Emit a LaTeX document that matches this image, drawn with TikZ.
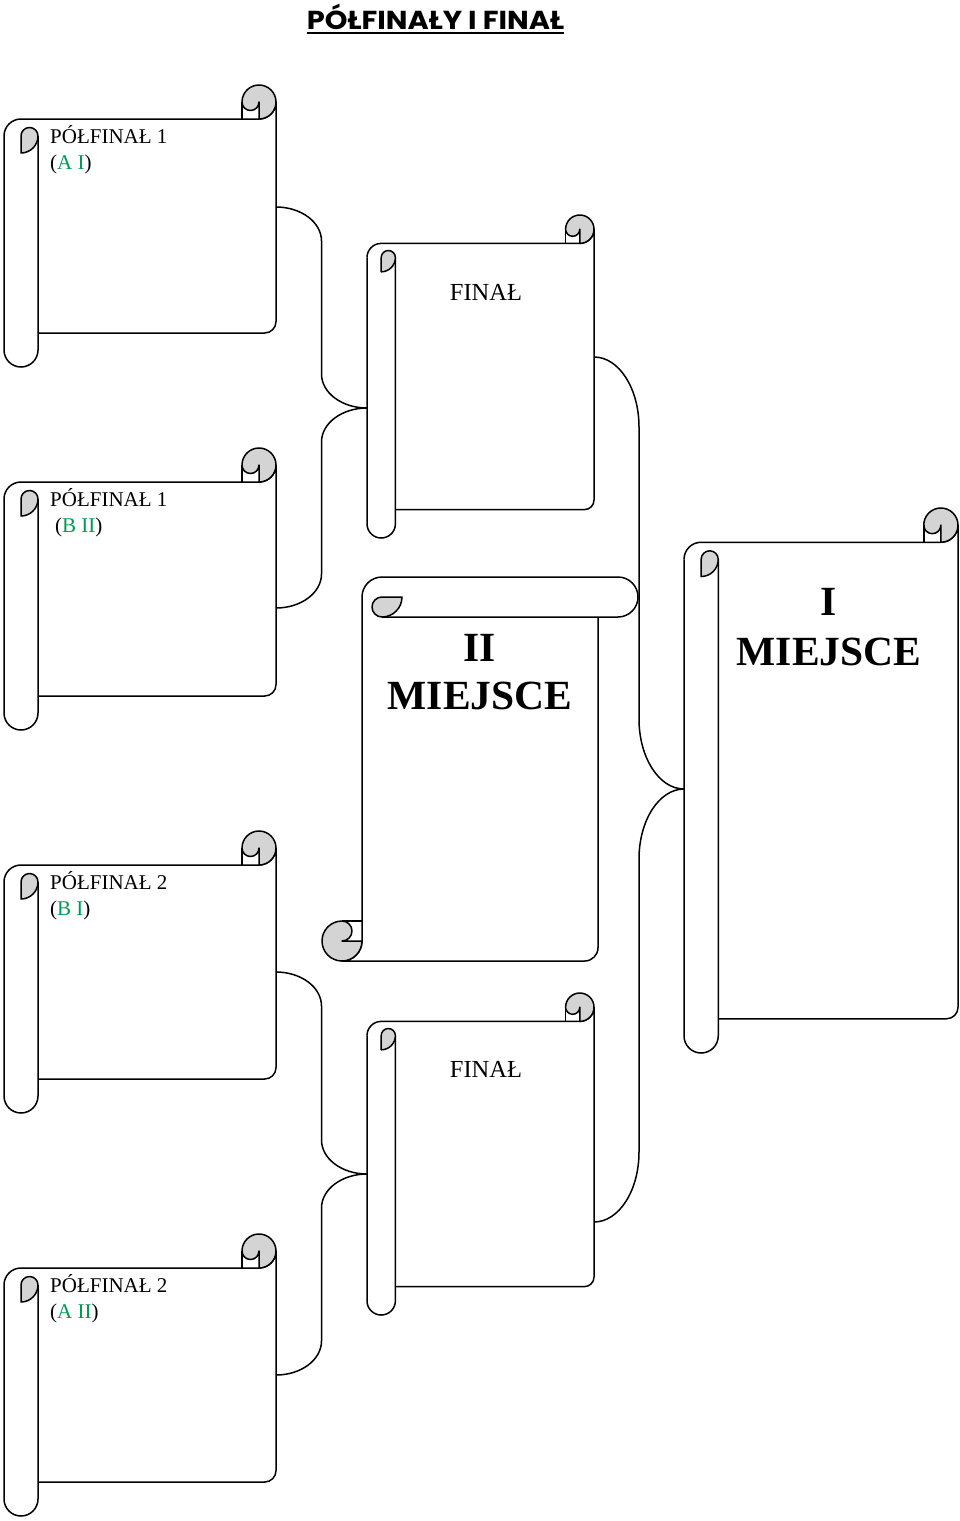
\documentclass[tikz,border=0pt]{standalone}
\usepackage{fontspec}
\setmainfont{Liberation Serif}
\newfontfamily\titlefont{Poppins}[FakeStretch=1.11]
\usepackage{xcolor}
\usetikzlibrary{calc, positioning}

\definecolor{curlgray}{RGB}{212,212,212}
\definecolor{teamgreen}{RGB}{0,155,80}

\tikzset{
  scrollline/.style={line width=1.5pt, line join=round, black},
  link/.style={line width=1.5pt, black},
  semtext/.style={font=\fontsize{21}{25}\selectfont, inner sep=0pt},
  fintext/.style={font=\fontsize{24.5}{29}\selectfont, inner sep=0pt},
  bigtext/.style={font=\fontsize{41.5}{49}\selectfont\bfseries, inner sep=0pt},
  titletext/.style={font=\titlefont\bfseries\fontsize{26}{31}\selectfont, inner sep=0pt}
}

% vertical scroll: left, top, right, bottom, roll width
\newcommand\vscroll[5]{%
  \pgfmathsetmacro\sL{#1}\pgfmathsetmacro\sT{#2}%
  \pgfmathsetmacro\sR{#3}\pgfmathsetmacro\sB{#4}%
  \pgfmathsetmacro\sc{#5}\pgfmathsetmacro\sh{#5/2}%
  \pgfmathsetmacro\sq{#5/4}\pgfmathsetmacro\sk{#5/3}%
  % sheet
  \draw[scrollline] (\sL,\sT+\sc+\sh) arc[start angle=180, end angle=270, radius=\sh]
    -- (\sR-\sh,\sT+\sc) arc[start angle=90, end angle=0, radius=\sh]
    -- (\sR,\sB-\sc-\sk) arc[start angle=0, end angle=90, radius=\sk]
    -- (\sL+\sc,\sB-\sc);
  % roll
  \draw[scrollline] (\sL,\sT+\sc+\sh) -- (\sL,\sB-\sh)
    arc[start angle=180, end angle=0, radius=\sh] -- (\sL+\sc,\sT+\sc+\sh);
  % curls
  \filldraw[scrollline, fill=curlgray] (\sL+\sh,\sT+\sc+\sh)
    arc[start angle=180, end angle=360, radius=\sq]
    arc[start angle=0, end angle=90, radius=\sh] -- cycle;
  \filldraw[scrollline, fill=curlgray] (\sR-\sc,\sT+\sh)
    arc[start angle=180, end angle=360, radius=\sh]
    arc[start angle=0, end angle=90, radius=\sh] -- (\sR-\sh,\sT+\sh)
    arc[start angle=0, end angle=180, radius=\sq] -- cycle;
  \draw[scrollline] (\sR-\sc,\sT+\sh) -- (\sR-\sc,\sT+\sc);
}

% brace between two scrolls: top, tip, bottom, x radius, y radius
\newcommand\bracelink[5]{%
  \draw[link] (#1) arc[start angle=-90, end angle=0, x radius=#4, y radius=#5]
    -- ($(#2)+(-#4,-#5)$) arc[start angle=180, end angle=90, x radius=#4, y radius=#5]
    arc[start angle=270, end angle=180, x radius=#4, y radius=#5]
    -- ($(#3)+(#4,-#5)$) arc[start angle=0, end angle=90, x radius=#4, y radius=#5];
}

\begin{document}
\begin{tikzpicture}[x=1pt, y=-1pt]
  \useasboundingbox (0,0) rectangle (960,1521);

  % title
  \node[titletext, anchor=base] (title) at (435.5,29.3) {PÓŁFINAŁY I FINAŁ};
  \draw[line width=1.8pt] ([yshift=-3.5pt]title.base west) -- ([yshift=-3.5pt]title.base east);

  % semifinals
  \vscroll{4}{85}{276}{367}{34}
  \vscroll{4}{448}{276}{730}{34}
  \vscroll{4}{831}{276}{1113}{34}
  \vscroll{4}{1234}{276}{1516}{34}

  % finals and places
  \vscroll{367}{215}{594}{538}{28.4}
  \vscroll{367}{993}{594}{1315}{28.4}
  \vscroll{684}{508}{958}{1053}{34.25}
  \begin{scope}[cm={0,-1,-1,0,(0,0)}]
    \vscroll{577}{322}{961}{638}{40}
  \end{scope}

  % texts
  \node[semtext, anchor=base west] (t1a) at (50,143) {PÓŁFINAŁ 1};
  \node[semtext, anchor=base west] (t1b) at (50,169) {(\textcolor{teamgreen}{A I})};
  \node[semtext, anchor=base west] (t2a) at (50,506) {PÓŁFINAŁ 1};
  \node[semtext, anchor=base west] (t2b) at (55,532) {(\textcolor{teamgreen}{B II})};
  \node[semtext, anchor=base west] (t3a) at (50,889) {PÓŁFINAŁ 2};
  \node[semtext, anchor=base west] (t3b) at (50,915) {(\textcolor{teamgreen}{B I})};
  \node[semtext, anchor=base west] (t4a) at (50,1292) {PÓŁFINAŁ 2};
  \node[semtext, anchor=base west] (t4b) at (50,1318) {(\textcolor{teamgreen}{A II})};

  \node[fintext, anchor=base] (fin1t) at (486,300) {FINAŁ};
  \node[fintext, anchor=base] (fin2t) at (486,1077) {FINAŁ};

  \node[bigtext, anchor=base] (sec1) at (480,661) {II};
  \node[bigtext, anchor=base] (sec2) at (480,709) {MIEJSCE};
  \node[bigtext, anchor=base] (win1) at (829,615) {I};
  \node[bigtext, anchor=base] (win2) at (829,665) {MIEJSCE};

  % brace ends
  \coordinate (sf1) at (276,207);
  \coordinate (fin1in) at (367,408);
  \coordinate (sf2) at (276,608);
  \coordinate (sf3) at (276,972);
  \coordinate (fin2in) at (367,1174);
  \coordinate (sf4) at (276,1375);
  \coordinate (fin1) at (594,357);
  \coordinate (winin) at (684,789);
  \coordinate (fin2) at (594,1222);

  \bracelink{sf1}{fin1in}{sf2}{45.5}{34}
  \bracelink{sf3}{fin2in}{sf4}{45.5}{34}
  \bracelink{fin1}{winin}{fin2}{45}{70}
\end{tikzpicture}
\end{document}
